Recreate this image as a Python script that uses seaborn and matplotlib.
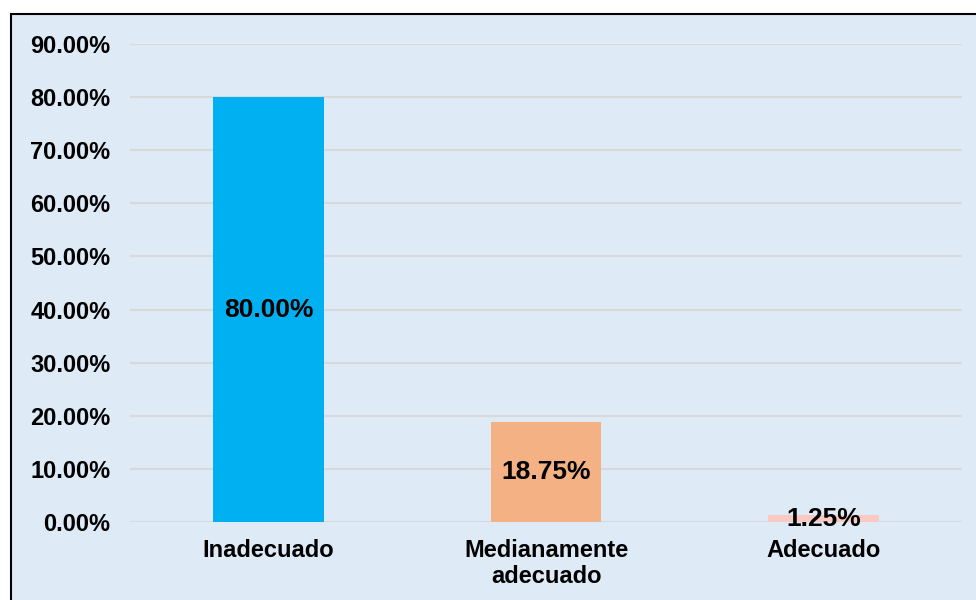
import numpy as np
import pandas as pd
import matplotlib.pyplot as plt
import matplotlib.patches as mpatches
import matplotlib.ticker as mticker
import seaborn as sns

categorias = ["Inadecuado", "Medianamente\nadecuado", "Adecuado"]
porcentajes = [0.80, 0.1875, 0.0125]
colores = ["#00B0F0", "#F4B183", "#FACAC2"]

sns.set_style("white")
plt.rcParams['font.family'] = ['Liberation Sans', 'DejaVu Sans']
plt.rcParams['font.weight'] = 'bold'

df = pd.DataFrame({"categoria": categorias, "valor": porcentajes})

fig = plt.figure(figsize=(9.76, 6.0), dpi=100, facecolor="white")
# fondo del grafico con borde (debajo de los ejes)
fondo = mpatches.Rectangle((11 / 976, -0.01), 1.0, 1.01 - 14 / 600, transform=fig.transFigure,
                           facecolor="#DEEAF6", edgecolor="black", linewidth=1.5, zorder=-5)
fig.patches.append(fondo)

ax = fig.add_axes([130 / 976, 78 / 600, 832 / 976, 478 / 600])
ax.set_facecolor("none")
sns.barplot(data=df, x="categoria", y="valor", hue="categoria", palette=colores,
            width=0.40, saturation=1, legend=False, linewidth=0, ax=ax, zorder=3)

ax.set_ylim(0, 0.9)
ax.set_xlim(-0.5, 2.5)
ax.yaxis.set_major_locator(mticker.MultipleLocator(0.1))
ax.yaxis.set_major_formatter(mticker.FuncFormatter(lambda v, p: f"{v * 100:.2f}%"))
ax.grid(axis="y", color="#D9D9D9", linewidth=1.5, zorder=0)
ax.set_axisbelow(True)
for s in ax.spines.values():
    s.set_visible(False)
ax.set_xlabel("")
ax.set_ylabel("")
ax.tick_params(axis="y", length=0, pad=14, labelsize=17, labelcolor="black")
ax.tick_params(axis="x", length=0, pad=12, labelsize=17, labelcolor="black")
for lbl in ax.get_yticklabels():
    lbl.set_fontweight("bold")
ax.set_xticks(range(len(categorias)))
ax.set_xticklabels(categorias, fontweight="bold", fontsize=17, linespacing=1.2, color="black")

for cont in ax.containers:
    ax.bar_label(cont, labels=[f"{v * 100:.2f}%" for v in cont.datavalues],
                 label_type="center", fontsize=19, fontweight="bold", color="black", zorder=5)

fig.savefig("out.png", dpi=100, facecolor="white")
